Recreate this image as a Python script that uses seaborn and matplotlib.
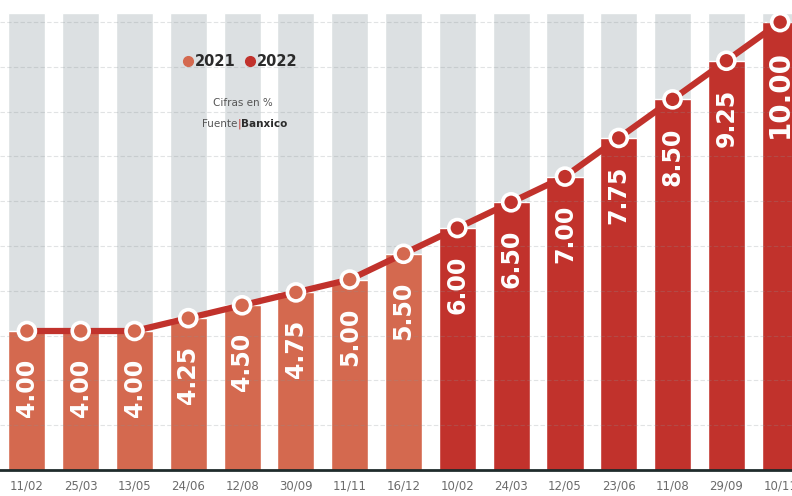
import numpy as np
import pandas as pd
import matplotlib
matplotlib.use("Agg")
import matplotlib.pyplot as plt
import seaborn as sns

# Banxico target rate decisions
dates = ["11/02", "25/03", "13/05", "24/06", "12/08", "30/09", "11/11", "16/12",
         "10/02", "24/03", "12/05", "23/06", "11/08", "29/09", "10/11"]
years = ["2021"] * 8 + ["2022"] * 7
rates = [4.00, 4.00, 4.00, 4.25, 4.50, 4.75, 5.00, 5.50,
         6.00, 6.50, 7.00, 7.75, 8.50, 9.25, 10.00]

year_colors = {"2021": "#D4694F", "2022": "#C1322C"}
bg_top = 10.17
y_bottom, y_top = 1.30, 10.43

df = pd.DataFrame({"fecha": dates, "anio": years, "tasa": rates})
df["pos"] = np.arange(len(df))
df["fondo"] = bg_top

sns.set_style("white")
plt.rcParams["font.family"] = ["DejaVu Sans"]

W, H = 792, 496
fig = plt.figure(figsize=(W / 100, H / 100), dpi=100)
ax = fig.add_axes([0, 26 / H, 1, 1 - 26 / H])

# gray background columns
sns.barplot(data=df, x="fecha", y="fondo", color="#DCE0E2", width=0.69,
            saturation=1, ax=ax, zorder=1)
# rate columns
sns.barplot(data=df, x="fecha", y="tasa", hue="anio", palette=year_colors,
            dodge=False, width=0.69, saturation=1, legend=False, ax=ax, zorder=2)

# faint dashed guides
for g in np.linspace(y_bottom, 10.0, 11)[1:]:
    ax.axhline(g, color="#8a9296", alpha=0.25, lw=0.8, ls=(0, (4, 2)), zorder=3)

# connecting line and markers
sns.lineplot(data=df, x="pos", y="tasa", color="#C1322C", lw=4.5, ax=ax,
             zorder=4, sort=False)
sns.scatterplot(data=df, x="pos", y="tasa", hue="anio", palette=year_colors,
                s=150, edgecolor="white", linewidth=2.6, legend=False, ax=ax,
                zorder=5, clip_on=False)

# value labels
for i, v in enumerate(rates):
    size = 20 if v >= 10 else 17
    ax.annotate(f"{v:.2f}", (i, v), xytext=(0, -20), textcoords="offset points",
                rotation=90, ha="center", va="top", color="white",
                fontsize=size, fontweight="bold", zorder=6)

ax.set_xlim(-0.5, 14.22)
ax.set_ylim(y_bottom, y_top)
ax.set_xlabel("")
ax.set_ylabel("")
ax.set_yticks([])
ax.tick_params(axis="x", length=0, pad=7, labelsize=8.5, labelcolor="#6b6b6b")
for side in ["top", "right", "left"]:
    ax.spines[side].set_visible(False)
ax.spines["bottom"].set_color("#1f2b2b")
ax.spines["bottom"].set_linewidth(2)
ax.spines["bottom"].set_zorder(7)


def fx(px):
    return px / W


def fy(py):
    return 1 - py / H


# legend
for cx, lab in [(188, "2021"), (250, "2022")]:
    fig.add_artist(plt.Line2D([fx(cx)], [fy(61)], marker="o", ms=7,
                              color=year_colors[lab], lw=0, transform=fig.transFigure))
    fig.text(fx(cx + 7), fy(61), lab, ha="left", va="center", fontsize=10.5,
             fontweight="bold", color="#2b2b2b")

fig.text(fx(243), fy(103), "Cifras en %", ha="center", va="center",
         fontsize=7.5, color="#555555")
fig.text(fx(237), fy(124), "Fuente", ha="right", va="center",
         fontsize=7.5, color="#555555")
fig.text(fx(239), fy(124), "|", ha="center", va="center",
         fontsize=8, color="#C1322C")
fig.text(fx(241), fy(124), "Banxico", ha="left", va="center",
         fontsize=7.5, fontweight="bold", color="#2b2b2b")

fig.savefig("out.png", dpi=100)
